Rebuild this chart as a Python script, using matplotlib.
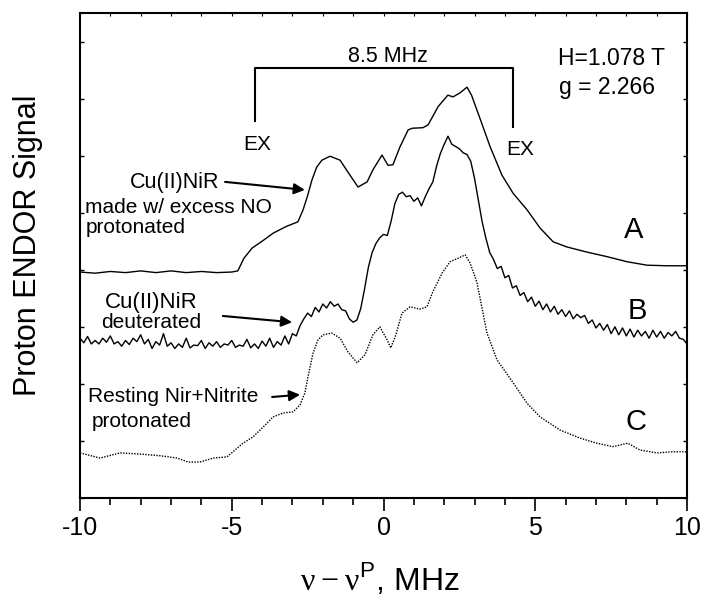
import numpy as np
import matplotlib
matplotlib.use("Agg")
from matplotlib import pyplot as plt
from matplotlib.ticker import MultipleLocator

plt.rcParams['font.family'] = ['Liberation Sans', 'DejaVu Sans']
plt.rcParams['mathtext.fontset'] = 'custom'
plt.rcParams['mathtext.rm'] = 'Liberation Serif'
plt.rcParams['mathtext.sf'] = 'Liberation Sans'
plt.rcParams['axes.unicode_minus'] = False

# Trace A: Cu(II)NiR made w/ excess NO, protonated (smooth)
a_x = [-10, -9.5, -9, -8.5, -8, -7.5, -7, -6.5, -6, -5.5, -5, -4.8, -4.6, -4.33,
       -4.0, -3.64, -3.2, -2.82, -2.65, -2.5, -2.36, -2.2, -2.03, -1.76, -1.43,
       -1.17, -0.84, -0.54, -0.35, -0.05, 0.15, 0.31, 0.54, 0.81, 0.94, 1.3, 1.47,
       1.8, 2.12, 2.29, 2.52, 2.75, 2.9, 3.18, 3.51, 3.9, 4.27, 4.73, 5.16, 5.59,
       6.04, 6.7, 7.36, 8.03, 8.68, 9.34, 10]
a_y = [3.96, 3.94, 3.97, 3.95, 3.98, 3.95, 3.98, 3.95, 3.97, 3.95, 3.96, 3.98, 4.2,
       4.38, 4.5, 4.64, 4.76, 4.84, 5.05, 5.3, 5.57, 5.8, 5.92, 5.99, 5.92, 5.71,
       5.45, 5.54, 5.75, 6.01, 5.83, 5.84, 6.15, 6.45, 6.48, 6.49, 6.54, 6.86, 7.06,
       7.03, 7.1, 7.2, 7.06, 6.65, 6.16, 5.66, 5.34, 5.05, 4.73, 4.49, 4.4, 4.31,
       4.23, 4.14, 4.08, 4.07, 4.07]

# Trace B: Cu(II)NiR deuterated (noisy), sampled every 0.125 MHz
b_x = np.linspace(-10, 10, 161)
b_y = [2.80, 2.72, 2.83, 2.70, 2.76, 2.70, 2.80, 2.73, 2.84, 2.70, 2.74, 2.66, 2.76,
       2.69, 2.80, 2.74, 2.86, 2.70, 2.78, 2.62, 2.74, 2.68, 2.88, 2.66, 2.72, 2.62,
       2.70, 2.64, 2.80, 2.63, 2.68, 2.67, 2.76, 2.62, 2.72, 2.66, 2.74, 2.64, 2.70,
       2.68, 2.76, 2.64, 2.68, 2.66, 2.78, 2.63, 2.70, 2.62, 2.75, 2.66, 2.80, 2.64,
       2.74, 2.68, 2.84, 2.70, 2.88,
       2.84, 3.02, 3.14, 3.24, 3.18, 3.34, 3.26, 3.40, 3.33, 3.44, 3.36, 3.40, 3.30,
       3.28, 3.14, 3.08, 3.12, 3.32, 3.66, 4.04, 4.30, 4.46, 4.56, 4.62, 4.60, 4.85,
       5.16, 5.32, 5.36, 5.28, 5.30, 5.20, 5.26, 5.12, 5.28, 5.42, 5.54, 5.82, 6.04,
       6.20, 6.34, 6.20, 6.16, 6.12, 6.05, 6.02, 5.90, 5.60, 5.22, 4.84, 4.55, 4.30,
       4.18, 4.02, 4.06, 3.86, 3.90, 3.68, 3.72, 3.55, 3.60, 3.44, 3.52, 3.36, 3.45,
       3.30, 3.40, 3.26, 3.36, 3.22, 3.30, 3.18, 3.28, 3.14, 3.22, 3.16, 3.20, 3.06,
       3.12, 2.98, 3.06, 2.94, 3.04, 2.88, 3.00, 2.86, 2.98, 2.84, 2.96, 2.82, 2.94,
       2.84, 2.92, 2.80, 2.94, 2.82, 2.92, 2.80, 2.90, 2.84, 2.92, 2.80, 2.78, 2.70]

# Trace C: resting NiR + nitrite, protonated (dotted)
c_x = [-10, -9.34, -8.68, -8.02, -7.36, -6.8, -6.44, -6.05, -5.6, -5.16, -4.96,
       -4.63, -4.3, -3.97, -3.64, -3.31, -2.98, -2.75, -2.59, -2.49, -2.32, -2.16,
       -1.99, -1.7, -1.43, -1.17, -0.87, -0.61, -0.35, -0.12, 0.12, 0.24, 0.4, 0.61,
       0.87, 1.2, 1.43, 1.63, 1.93, 2.19, 2.45, 2.69, 2.85, 3.0, 3.08, 3.41, 3.74,
       4.27, 4.73, 5.16, 5.82, 6.47, 7.03, 7.56, 8.05, 8.45, 9.01, 9.54, 10]
c_y = [0.79, 0.7, 0.79, 0.77, 0.74, 0.7, 0.63, 0.63, 0.7, 0.72, 0.81, 0.96, 1.07,
       1.24, 1.42, 1.49, 1.51, 1.63, 1.84, 2.12, 2.54, 2.77, 2.86, 2.89, 2.8, 2.56,
       2.37, 2.51, 2.86, 3.0, 2.77, 2.63, 2.85, 3.24, 3.35, 3.31, 3.35, 3.62, 3.94,
       4.14, 4.2, 4.26, 4.12, 3.9, 3.77, 2.89, 2.42, 2.02, 1.66, 1.42, 1.19, 1.05,
       0.96, 0.9, 0.96, 0.84, 0.79, 0.81, 0.81]

curve_labels = ["A", "B", "C"]
label_pos = [(8.25, 4.56), (8.35, 3.14), (8.32, 1.19)]

bracket_x = [-4.25, 4.25]
bracket_top = 7.54
bracket_bottoms = [6.61, 6.50]


def main():
    fig = plt.figure(figsize=(7.04, 6.05), dpi=100)
    ax = fig.add_axes([0.1136, 0.1769, 0.8623, 0.8016])

    ax.plot(a_x, a_y, color='black', lw=1.0)
    ax.plot(b_x, b_y, color='black', lw=1.0)
    ax.plot(c_x, c_y, color='black', lw=1.0, linestyle=(0, (1, 1)))

    for lab, (lx, ly) in zip(curve_labels, label_pos):
        ax.text(lx, ly, lab, fontsize=21, ha='center', va='baseline')

    # 8.5 MHz bracket between the EX lines
    ax.plot([bracket_x[0], bracket_x[0], bracket_x[1], bracket_x[1]],
            [bracket_bottoms[0], bracket_top, bracket_top, bracket_bottoms[1]],
            color='black', lw=1.5)
    ax.text(0.15, 7.64, "8.5 MHz", fontsize=15.5, ha='center', va='baseline')
    ax.text(-4.17, 6.10, "EX", fontsize=15, ha='center', va='baseline')
    ax.text(4.50, 6.01, "EX", fontsize=15, ha='center', va='baseline')

    ax.text(5.75, 7.59, "H=1.078 T", fontsize=16.5, ha='left', va='baseline')
    ax.text(5.77, 7.08, "g = 2.266", fontsize=16.5, ha='left', va='baseline')

    # annotations with arrows
    arrow = dict(arrowstyle='-|>', color='black', lw=1.5, mutation_scale=16,
                 shrinkA=0, shrinkB=0)
    ax.text(-6.87, 5.43, "Cu(II)NiR", fontsize=15.5, ha='center', va='baseline')
    ax.text(-9.84, 4.99, "made w/ excess NO", fontsize=15, ha='left', va='baseline')
    ax.text(-9.80, 4.64, "protonated", fontsize=15, ha='left', va='baseline')
    ax.annotate("", xy=(-2.59, 5.40), xytext=(-5.22, 5.54), arrowprops=arrow)

    ax.text(-7.66, 3.33, "Cu(II)NiR", fontsize=16, ha='center', va='baseline')
    ax.text(-7.66, 2.98, "deuterated", fontsize=15, ha='center', va='baseline')
    ax.annotate("", xy=(-3.01, 3.08), xytext=(-5.29, 3.19), arrowprops=arrow)

    ax.text(-9.74, 1.68, "Resting Nir+Nitrite", fontsize=15, ha='left', va='baseline')
    ax.text(-9.60, 1.24, "protonated", fontsize=15, ha='left', va='baseline')
    ax.annotate("", xy=(-2.75, 1.81), xytext=(-3.67, 1.77), arrowprops=arrow)

    ax.set_xlim(-10, 10)
    ax.set_ylim(0, 8.5)
    ax.xaxis.set_major_locator(MultipleLocator(5))
    ax.xaxis.set_minor_locator(MultipleLocator(1))
    ax.yaxis.set_major_locator(MultipleLocator(1))
    ax.set_yticklabels([])
    ax.tick_params(axis='x', which='major', direction='out', length=9, width=1.2,
                   labelsize=18, pad=4)
    ax.tick_params(axis='x', which='minor', direction='out', length=5, width=1.2)
    ax.tick_params(axis='y', which='major', direction='in', length=3, width=1.0,
                   left=True, right=True)
    for side in ['left', 'right', 'top', 'bottom']:
        ax.spines[side].set_linewidth(1.5)

    # top ticks small and pointing inward
    top = ax.secondary_xaxis('top')
    top.set_xticks(np.arange(-10, 11, 1))
    top.tick_params(direction='in', length=2, labeltop=False)
    top.spines['top'].set_visible(False)

    fig.text(0.040, 0.595, "Proton ENDOR Signal", fontsize=22, rotation=90,
             ha='center', va='center')
    fig.text(0.540, 0.0248, r'$\mathrm{\nu} - \mathrm{\nu}^{\mathsf{P}}$, MHz',
             fontsize=23, ha='center', va='baseline')

    fig.savefig("out.png", dpi=100)


if __name__ == "__main__":
    main()
